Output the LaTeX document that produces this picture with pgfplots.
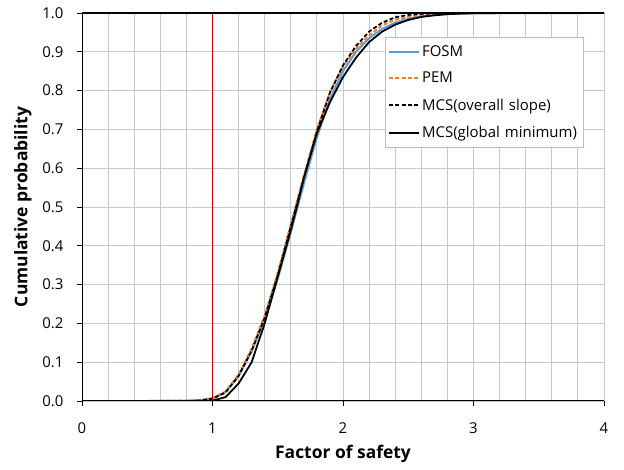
\documentclass[border=0pt]{standalone}
\usepackage{pgfplots}
\pgfplotsset{compat=1.18}
\usepackage{fontspec}
\setmainfont{Open Sans}
\definecolor{fosm}{HTML}{5B9BD5}
\definecolor{pem}{HTML}{ED7D31}
\definecolor{gridc}{HTML}{C8C8C8}
\definecolor{legc}{HTML}{9DC3E6}
\definecolor{redl}{HTML}{C00000}
\begin{document}
\begin{tikzpicture}
\begin{axis}[
  scale only axis,
  width=522bp, height=388bp,
  xmin=0, xmax=4, ymin=0, ymax=1,
  xtick={0,1,2,3,4},
  minor x tick num=4,
  ytick={0,0.1,...,1.0},
  grid=both,
  major grid style={draw=gridc, line width=0.9pt},
  minor grid style={draw=gridc, line width=0.9pt},
  minor tick length=0pt,
  major tick length=5bp,
  tick align=outside,
  tick style={black, line width=0.7pt},
  xtick pos=bottom, ytick pos=left,
  axis line style={draw=none},
  /pgf/number format/assume math mode=true,
  yticklabel style={xshift=-10bp, /pgf/number format/fixed, /pgf/number format/fixed zerofill, /pgf/number format/precision=1},
  ticklabel style={font=\fontsize{15}{17}\selectfont},
  xticklabel style={yshift=-13bp},
  xlabel={\textbf{Factor of safety}},
  ylabel={\textbf{Cumulative probability}},
  label style={font=\fontsize{17.5}{20}\selectfont},
  xlabel style={yshift=-5bp},
  ylabel style={yshift=4bp},
  legend style={at={(0.58,0.938)}, anchor=north west, draw=legc, line width=0.8pt,
    font=\fontsize{15}{17}\selectfont, inner xsep=3bp, inner ysep=6bp,
    row sep=10.5bp, text width=156bp},
  legend cell align=left,
  legend image code/.code={\draw[#1] (0bp,0bp) -- (30bp,0bp);},
]
\addplot[fosm, line width=2pt] coordinates {
(0,0) (0.5,0) (0.8,0.0005) (0.9,0.002) (1.0,0.007) (1.1,0.023) (1.2,0.064) (1.3,0.128)
(1.4,0.21) (1.5,0.315) (1.6,0.435) (1.7,0.56) (1.8,0.68) (1.9,0.778) (2.0,0.85)
(2.1,0.90) (2.2,0.935) (2.3,0.959) (2.4,0.975) (2.5,0.985) (2.6,0.991) (2.7,0.995)
(2.8,0.9975) (3.0,0.9993) (3.2,0.9999) (4.0,1.0)};
\addlegendentry{FOSM}
\addplot[pem, line width=2pt, dash pattern=on 4bp off 2.2bp] coordinates {
(0,0) (0.5,0) (0.8,0.0005) (0.9,0.002) (1.0,0.007) (1.1,0.024) (1.2,0.068) (1.3,0.135)
(1.4,0.22) (1.5,0.33) (1.6,0.455) (1.7,0.58) (1.8,0.70) (1.9,0.795) (2.0,0.862)
(2.1,0.908) (2.2,0.942) (2.3,0.968) (2.4,0.983) (2.5,0.990) (2.6,0.995) (2.7,0.997)
(2.8,0.9985) (3.0,0.9996) (3.2,1.0) (4.0,1.0)};
\addlegendentry{PEM}
\addplot[black, line width=1.8pt, dash pattern=on 4bp off 2.2bp] coordinates {
(0.5,0) (0.9,0.001) (1.0,0.006) (1.1,0.022) (1.2,0.065) (1.3,0.13) (1.4,0.215)
(1.5,0.325) (1.6,0.45) (1.7,0.575) (1.8,0.695) (1.9,0.795) (2.0,0.865) (2.1,0.915)
(2.2,0.952) (2.3,0.975) (2.4,0.989) (2.5,0.995) (2.6,0.998) (2.7,0.9993) (2.8,1.0) (4.0,1.0)};
\addlegendentry{MCS(overall slope)}
\addplot[black, line width=1.8pt] coordinates {
(0.5,0) (0.9,0) (1.0,0.001) (1.1,0.01) (1.2,0.045) (1.3,0.10) (1.4,0.20) (1.5,0.32)
(1.6,0.44) (1.65,0.505) (1.7,0.575) (1.8,0.69) (1.9,0.77) (2.0,0.835) (2.1,0.885)
(2.2,0.925) (2.3,0.952) (2.4,0.970) (2.5,0.982) (2.6,0.990) (2.7,0.994) (2.8,0.997)
(2.9,0.9985) (3.0,0.9993) (3.2,0.9998) (3.5,1.0) (4.0,1.0)};
\addlegendentry{MCS(global minimum)}
\addplot[redl, line width=2pt, forget plot] coordinates {(1,0) (1,1)};
\draw[black, line width=1.4pt] (rel axis cs:0,0) -- (rel axis cs:1,0);
\draw[black, line width=1pt] (rel axis cs:0,0) -- (rel axis cs:0,1);
\draw[black, line width=2pt] (rel axis cs:0,1) -- (rel axis cs:1,1);
\end{axis}
\pgfresetboundingbox
\path ([shift={(-82bp,-69bp)}]current axis.south west) rectangle ([shift={(20bp,13bp)}]current axis.north east);
\end{tikzpicture}
\end{document}
